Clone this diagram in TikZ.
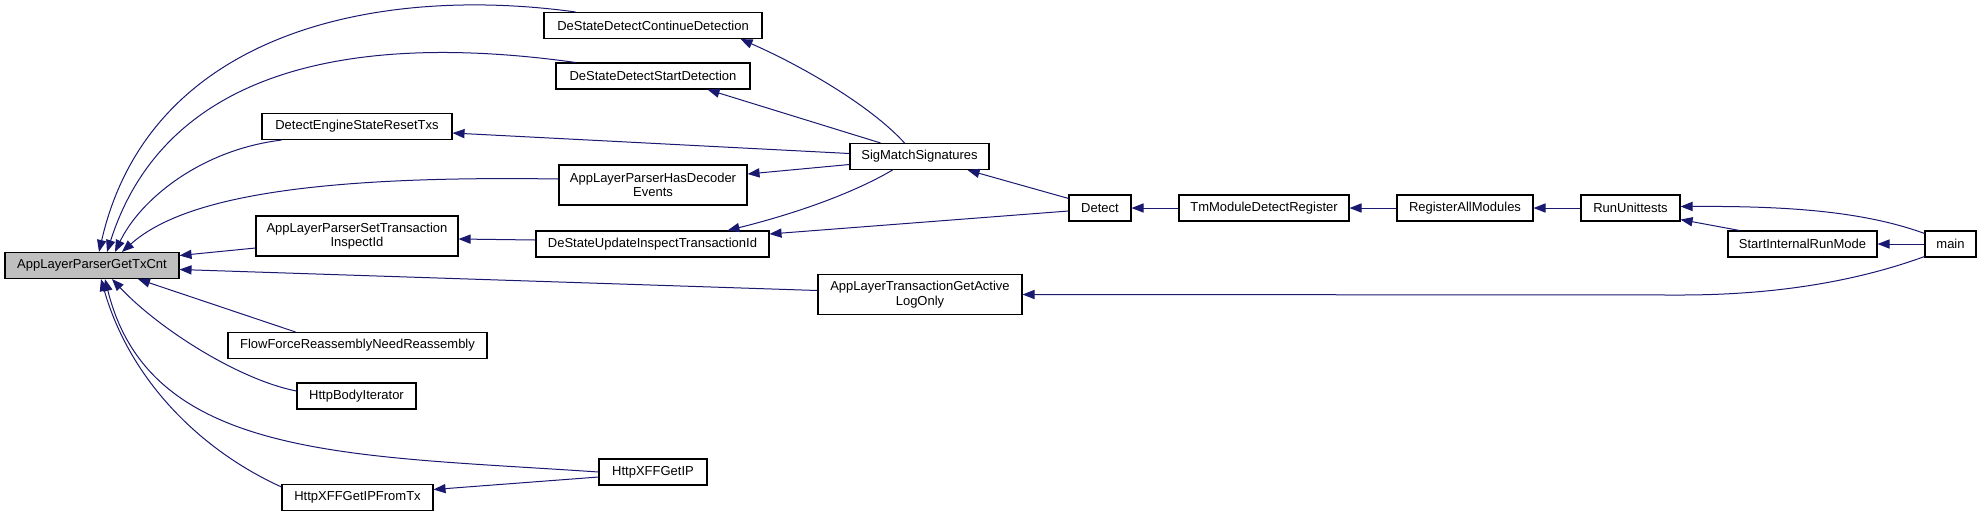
\documentclass[tikz,border=0pt]{standalone}
\usepackage{fontspec}
\setmainfont{Liberation Sans}
\definecolor{grafoAzul}{HTML}{191970}
\definecolor{grafoGris}{HTML}{BFBFBF}
\usetikzlibrary{
	arrows.meta,
	calc
}
\tikzset{
	funcion/.style={
		draw=black,
		fill=white,
		line width=0.55pt,
		minimum height=13pt,
		inner sep=0pt,
		align=center,
		font=\fontsize{6.5pt}{7.2pt}\selectfont
	},
	funcionDoble/.style={
		funcion,
		minimum height=20pt
	},
	raiz/.style={
		funcion,
		fill=grafoGris
	},
	llamada/.style={
		-{Triangle[length=6pt,width=4.6pt]},
		line width=0.5pt,
		grafoAzul
	}
}

\begin{document}
\begin{tikzpicture}[x=0.5pt,y=-0.5pt]
		\useasboundingbox (0,0) rectangle (1981,516);
		% funciones
		\node[raiz, minimum width=87pt] (getTxCnt) at (92,265.5) {AppLayerParserGetTxCnt};
		\node[funcion, minimum width=109pt] (contDet) at (653,25.5) {DeStateDetectContinueDetection};
		\node[funcion, minimum width=97pt] (startDet) at (653,76) {DeStateDetectStartDetection};
		\node[funcion, minimum width=95pt] (resetTxs) at (357,126.5) {DetectEngineStateResetTxs};
		\node[funcionDoble, minimum width=94pt] (hasDecoder) at (653,185) {AppLayerParserHasDecoder\\Events};
		\node[funcionDoble, minimum width=101pt] (setTrans) at (357,236) {AppLayerParserSetTransaction\\InspectId};
		\node[funcion, minimum width=116.5pt] (updInspect) at (652.5,244) {DeStateUpdateInspectTransactionId};
		\node[funcionDoble, minimum width=102pt] (activeLog) at (920,294.5) {AppLayerTransactionGetActive\\LogOnly};
		\node[funcion, minimum width=129.5pt] (flowForce) at (357.5,345.5) {FlowForceReassemblyNeedReassembly};
		\node[funcion, minimum width=59.5pt] (bodyIter) at (356.5,396) {HttpBodyIterator};
		\node[funcion, minimum width=54pt] (xffIP) at (653,472) {HttpXFFGetIP};
		\node[funcion, minimum width=75.5pt] (xffFromTx) at (357.5,497.5) {HttpXFFGetIPFromTx};
		\node[funcion, minimum width=69.5pt] (sigMatch) at (919.5,156.5) {SigMatchSignatures};
		\node[funcion, minimum width=31pt] (detect) at (1100,208) {Detect};
		\node[funcion, minimum width=85pt] (tmDetReg) at (1264,208) {TmModuleDetectRegister};
		\node[funcion, minimum width=68pt] (regAll) at (1465,208) {RegisterAllModules};
		\node[funcion, minimum width=49.5pt] (runUnit) at (1630.5,208) {RunUnittests};
		\node[funcion, minimum width=74.5pt] (startInt) at (1802.5,244) {StartInternalRunMode};
		\node[funcion, minimum width=25.5pt] (mainFn) at (1950.5,244) {main};
		% llamadas hacia AppLayerParserGetTxCnt
		\draw[llamada] ($(contDet.north west)+(32,0)$) .. controls (380,-15) and (150,30) .. ($(getTxCnt.north)+(7,0)$);
		\draw[llamada] ($(startDet.north west)+(20,0)$) .. controls (380,35) and (170,55) .. ($(getTxCnt.north)+(15,0)$);
		\draw[llamada] ($(resetTxs.south west)+(20,0)$) .. controls (200,150) and (140,200) .. ($(getTxCnt.north)+(23,0)$);
		\draw[llamada] ($(hasDecoder.west)+(0,-6)$) .. controls (300,175) and (180,200) .. ($(getTxCnt.north)+(30,0)$);
		\draw[llamada] ($(setTrans.west)+(0,12)$) -- ($(getTxCnt.east)+(0,-10)$);
		\draw[llamada] ($(activeLog.west)+(0,-4)$) -- ($(getTxCnt.east)+(0,4)$);
		\draw[llamada] ($(flowForce.north west)+(68,0)$) -- ($(getTxCnt.south)+(46,0)$);
		\draw[llamada] ($(bodyIter.west)+(0,-5)$) .. controls (240,380) and (160,330) .. ($(getTxCnt.south)+(20,0)$);
		\draw[llamada] (xffIP.west) .. controls (350,455) and (150,460) .. ($(getTxCnt.south)+(13,0)$);
		\draw[llamada] ($(xffFromTx.north west)+(0,3)$) .. controls (200,450) and (130,380) .. ($(getTxCnt.south)+(9,0)$);
		\draw[llamada] ($(xffIP.west)+(0,5)$) -- ($(xffFromTx.east)+(0,-8)$);
		% llamadas desde SigMatchSignatures y Detect
		\draw[llamada] ($(sigMatch.north)+(-15,0)$) .. controls (870,105) and (800,65) .. ($(contDet.south east)+(-22,0)$);
		\draw[llamada] ($(sigMatch.north)+(-39,0)$) -- ($(startDet.south east)+(-43,0)$);
		\draw[llamada] ($(sigMatch.west)+(0,-3)$) -- ($(resetTxs.east)+(0,6.5)$);
		\draw[llamada] ($(sigMatch.west)+(0,8)$) -- ($(hasDecoder.east)+(0,-11)$);
		\draw[llamada] ($(sigMatch.south)+(-27,0)$) .. controls (850,195) and (790,215) .. ($(updInspect.north east)+(-42,0)$);
		\draw[llamada] ($(detect.west)+(0,3)$) -- ($(updInspect.east)+(0,-10)$);
		\draw[llamada] ($(detect.north west)+(0,4)$) -- ($(sigMatch.south east)+(-22,0)$);
		\draw[llamada] ($(updInspect.west)+(0,-4)$) -- ($(setTrans.east)+(0,3)$);
		% cadena hasta main
		\draw[llamada] (tmDetReg.west) -- (detect.east);
		\draw[llamada] (regAll.west) -- (tmDetReg.east);
		\draw[llamada] (runUnit.west) -- (regAll.east);
		\draw[llamada] (mainFn.west) -- (startInt.east);
		\draw[llamada] ($(mainFn.north west)+(0,3)$) .. controls (1860,210) and (1780,206) .. ($(runUnit.east)+(0,-1.5)$);
		\draw[llamada] ($(startInt.north west)+(12,0)$) -- ($(runUnit.south east)+(0,-2)$);
		\draw[llamada] ($(mainFn.south west)+(0,-1)$) .. controls (1860,280) and (1780,295) .. (1680,295) -- (activeLog.east);
	\end{tikzpicture}
\end{document}
